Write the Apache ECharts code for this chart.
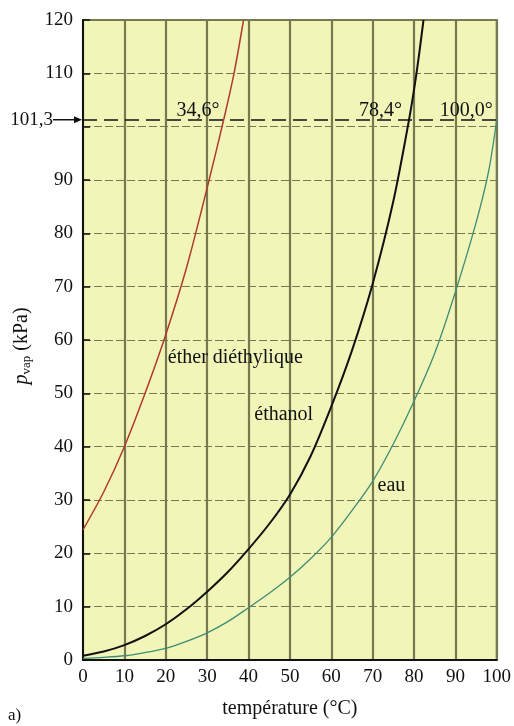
<!DOCTYPE html>
<html><head><meta charset="utf-8">
<script src="https://cdn.jsdelivr.net/npm/echarts@6/dist/echarts.min.js"></script>
<style>html,body{margin:0;padding:0;background:#fff}#c{width:514px;height:726px}</style>
</head><body><div id="c"></div>
<script>
// Data
const etherT = [0, 5, 10, 15, 20, 25, 30, 34.0, 36.5, 38.8];
const etherP = [24.4, 31.5, 40, 50, 61, 73.5, 88.5, 101.3, 110, 120];
const ethanolT = [0, 5, 10, 15, 20, 25, 30, 35, 40, 45, 50, 55, 60, 65, 70, 75, 78.8, 80.6, 82.3];
const ethanolP = [0.8, 1.6, 2.8, 4.5, 6.7, 9.5, 12.8, 16.5, 20.8, 25.5, 31, 38.2, 47.5, 58, 70.5, 86, 101.3, 110, 120];
const waterT = [0, 5, 10, 15, 20, 25, 30, 35, 40, 45, 50, 55, 60, 65, 70, 75, 80, 85, 90, 95, 98, 100];
const waterP = [0.3, 0.5, 0.8, 1.4, 2.2, 3.5, 5.1, 7.2, 9.8, 12.5, 15.5, 19, 23, 28, 33.5, 40.5, 48.5, 57.5, 69, 82, 91.5, 101.3];
const xTicks = [0, 10, 20, 30, 40, 50, 60, 70, 80, 90, 100];
const yTicks = [0, 10, 20, 30, 40, 50, 60, 70, 80, 90, 110, 120];
const pAtm = 101.3;
const pAtmLabel = '101,3';
const boilLabels = [
  {text: '34,6°', x: 22.6},
  {text: '78,4°', x: 66.7},
  {text: '100,0°', x: 86.2}
];
const curveLabels = [
  {text: 'éther diéthylique', x: 20.5, y: 56.7},
  {text: 'éthanol', x: 41.4, y: 46},
  {text: 'eau', x: 71.2, y: 32.6}
];

const zip = (a, b) => a.map((v, i) => [v, b[i]]);
const FONT = '"Liberation Serif", "DejaVu Serif", serif';
const GRIDC = '#777a50';
const TICKFS = 19, LABFS = 20;
const SM = 0.3;

const chart = echarts.init(document.getElementById('c'), null, {renderer: 'canvas'});
chart.setOption({
  animation: false,
  backgroundColor: '#ffffff',
  textStyle: {fontFamily: FONT},
  grid: {left: 83, right: 16, top: 20, bottom: 66, show: true,
         backgroundColor: '#f2f5b8', borderColor: GRIDC, borderWidth: 2},
  xAxis: {
    type: 'value', min: 0, max: 100, interval: 10,
    name: 'température (°C)', nameLocation: 'middle', nameGap: 39,
    nameTextStyle: {fontFamily: FONT, fontSize: LABFS, color: '#111'},
    axisLine: {show: true, onZero: false, lineStyle: {color: '#111', width: 2}},
    axisTick: {show: false},
    axisLabel: {fontFamily: FONT, fontSize: TICKFS, color: '#111', margin: 8,
      formatter: v => xTicks.includes(v) ? String(v) : ''},
    splitLine: {show: true, lineStyle: {color: GRIDC, width: 2.2}}
  },
  yAxis: {
    type: 'value', min: 0, max: 120, interval: 10,
    name: '{p|p}{s|vap}{n| (kPa)}', nameLocation: 'middle', nameGap: 50, nameRotate: 90,
    nameTextStyle: {padding: [0, 0, 0, -12], rich: {
      p: {fontFamily: FONT, fontSize: LABFS, fontStyle: 'italic', color: '#111'},
      s: {fontFamily: FONT, fontSize: 13, color: '#111', padding: [10, 0, 0, 0]},
      n: {fontFamily: FONT, fontSize: LABFS, color: '#111'}
    }},
    axisLine: {show: true, onZero: false, lineStyle: {color: '#111', width: 2}},
    axisTick: {show: true, inside: true, length: 7, lineStyle: {color: '#111', width: 1.5}},
    axisLabel: {fontFamily: FONT, fontSize: TICKFS, color: '#111', margin: 10,
      formatter: v => yTicks.includes(v) ? String(v) : ''},
    splitLine: {show: true, lineStyle: {color: GRIDC, width: 1.2, type: [8, 3]}}
  },
  series: [
    {type: 'line', name: 'éther diéthylique', data: zip(etherT, etherP), smooth: SM,
     showSymbol: false, lineStyle: {color: '#b03a2c', width: 1.5}, z: 5,
     markLine: {silent: true, symbol: 'none', label: {show: false},
       lineStyle: {color: '#111', width: 1.6, type: [14, 7]},
       data: [{yAxis: pAtm}]}},
    {type: 'line', name: 'éthanol', data: zip(ethanolT, ethanolP), smooth: SM,
     showSymbol: false, lineStyle: {color: '#111', width: 2}, z: 5},
    {type: 'line', name: 'eau', data: zip(waterT, waterP), smooth: SM,
     showSymbol: false, lineStyle: {color: '#3e8c78', width: 1.3}, z: 5}
  ]
});

function px(x, y) { return chart.convertToPixel({gridIndex: 0}, [x, y]); }
const g = [];
const origin = px(0, pAtm);
g.push({type: 'text', x: origin[0] - 30, y: origin[1],
  style: {text: pAtmLabel, fontFamily: FONT, fontSize: TICKFS, fill: '#111',
          align: 'right', verticalAlign: 'middle'}});
g.push({type: 'line', shape: {x1: origin[0] - 30, y1: origin[1], x2: origin[0] - 6, y2: origin[1]},
  style: {stroke: '#111', lineWidth: 1.5}});
g.push({type: 'polygon', shape: {points: [[origin[0] - 1, origin[1]], [origin[0] - 9, origin[1] - 3.5], [origin[0] - 9, origin[1] + 3.5]]},
  style: {fill: '#111'}});
boilLabels.forEach(b => {
  const p = px(b.x, pAtm);
  g.push({type: 'text', x: p[0], y: p[1] + 1, z: 10,
    style: {text: b.text, fontFamily: FONT, fontSize: LABFS, fill: '#111',
            align: 'left', verticalAlign: 'bottom'}});
});
curveLabels.forEach(c => {
  const p = px(c.x, c.y);
  g.push({type: 'text', x: p[0], y: p[1], z: 10,
    style: {text: c.text, fontFamily: FONT, fontSize: LABFS, fill: '#111',
            align: 'left', verticalAlign: 'middle'}});
});
g.push({type: 'text', x: 8, y: 716, style: {text: 'a)', fontFamily: FONT, fontSize: 17, fill: '#111', verticalAlign: 'middle'}});
chart.setOption({graphic: g});
</script>
</body></html>
